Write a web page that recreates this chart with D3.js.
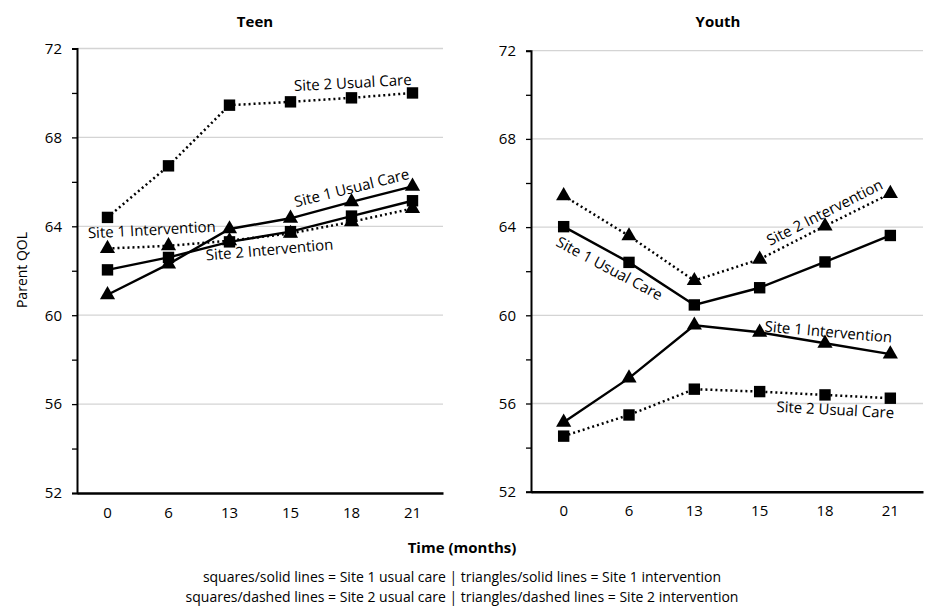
<!DOCTYPE html>
<html><head><meta charset="utf-8">
<script src="https://cdn.jsdelivr.net/npm/d3@7"></script>
<style>
body{margin:0;background:#fff;}
text{font-family:"Open Sans",Arial,sans-serif;fill:#000;}
</style></head>
<body><svg id="c" width="925" height="606"></svg>
<script>
const months = ["0","6","13","15","18","21"];
const yTicks = [52,56,60,64,68,72];
const teenSite1Usual = [62.04,62.6,63.3,63.76,64.46,65.15];
const teenSite1Interv = [60.92,62.3,63.88,64.36,65.1,65.8];
const teenSite2Usual = [64.4,66.72,69.45,69.6,69.78,70.0];
const teenSite2Interv = [63.0,63.12,63.35,63.68,64.2,64.8];
const youthSite1Usual = [64.02,62.4,60.47,61.25,62.42,63.62];
const youthSite1Interv = [55.15,57.15,59.55,59.23,58.73,58.24];
const youthSite2Usual = [54.52,55.48,56.65,56.54,56.39,56.24];
const youthSite2Interv = [65.42,63.6,61.57,62.54,64.05,65.52];

const panels = [
 {title:"Teen", x0:77, x1:443, yTop:48.5, yBot:493, tx:255,
  series:[
   {v:teenSite1Usual, sym:"square", dash:false},
   {v:teenSite1Interv, sym:"triangle", dash:false},
   {v:teenSite2Interv, sym:"triangle", dash:true},
   {v:teenSite2Usual, sym:"square", dash:true}],
  labels:[
   {t:"Site 2 Usual Care", x:353, y:88, r:-3},
   {t:"Site 1 Usual Care", x:353, y:193, r:-14},
   {t:"Site 1 Intervention", x:152, y:235, r:-3},
   {t:"Site 2 Intervention", x:270, y:255, r:-5}]},
 {title:"Youth", x0:531, x1:923, yTop:50.7, yBot:491.7, tx:718,
  series:[
   {v:youthSite1Usual, sym:"square", dash:false},
   {v:youthSite1Interv, sym:"triangle", dash:false},
   {v:youthSite2Interv, sym:"triangle", dash:true},
   {v:youthSite2Usual, sym:"square", dash:true}],
  labels:[
   {t:"Site 2 Intervention", x:827, y:217, r:-27},
   {t:"Site 1 Usual Care", x:607, y:273, r:28},
   {t:"Site 1 Intervention", x:828, y:337, r:5},
   {t:"Site 2 Usual Care", x:835, y:415, r:3}]}
];

const svg = d3.select("#c");
panels.forEach(p=>{
  const g = svg.append("g");
  const x = d3.scaleBand().domain(months).range([p.x0,p.x1]);
  const y = d3.scaleLinear().domain([52,72]).range([p.yBot,p.yTop]);
  g.selectAll(".grid").data(yTicks.slice(1)).enter().append("line")
    .attr("x1",p.x0).attr("x2",p.x1).attr("y1",d=>y(d)).attr("y2",d=>y(d))
    .attr("stroke","#d4d4d4").attr("stroke-width",1.3);
  const ya = g.append("g").attr("transform",`translate(${p.x0},0)`)
    .call(d3.axisLeft(y).tickValues(d3.range(52,73,2)).tickSize(5).tickFormat(d=>yTicks.includes(d)?d:""));
  ya.select(".domain").attr("stroke","#000").attr("stroke-width",2);
  ya.selectAll(".tick line").attr("stroke","#000").attr("stroke-width",1.3);
  ya.selectAll(".tick text").attr("font-size",15).attr("x",-15)
    .style("font-family","'Open Sans',Arial,sans-serif");
  const xa = g.append("g").attr("transform",`translate(0,${p.yBot})`)
    .call(d3.axisBottom(x).tickSize(0).tickPadding(14));
  xa.select(".domain").attr("stroke","#000").attr("stroke-width",2.5);
  xa.selectAll(".tick text").attr("font-size",15)
    .style("font-family","'Open Sans',Arial,sans-serif");
  g.append("text").attr("x",p.tx).attr("y",27).attr("text-anchor","middle")
    .attr("font-size",15).attr("font-weight","bold").text(p.title);
  const line = d3.line().x((d,i)=>x(months[i])+x.bandwidth()/2).y(d=>y(d));
  p.series.forEach(s=>{
    g.append("path").datum(s.v).attr("d",line).attr("fill","none")
      .attr("stroke","#000").attr("stroke-width",s.dash?2.5:2.4)
      .attr("stroke-dasharray",s.dash?"2,3":null);
    const sym = d3.symbol().type(s.sym==="square"?d3.symbolSquare:d3.symbolTriangle)
      .size(s.sym==="square"?130:100);
    g.selectAll(null).data(s.v).enter().append("path")
      .attr("d",sym)
      .attr("transform",(d,i)=>`translate(${x(months[i])+x.bandwidth()/2},${y(d)})`)
      .attr("fill","#000");
  });
  p.labels.forEach(l=>{
    g.append("text").attr("transform",`translate(${l.x},${l.y}) rotate(${l.r})`)
      .attr("text-anchor","middle").attr("font-size",15).text(l.t);
  });
});
svg.append("text").attr("transform","translate(27,270) rotate(-90)")
  .attr("text-anchor","middle").attr("font-size",14).text("Parent QOL");
svg.append("text").attr("x",462).attr("y",553).attr("text-anchor","middle")
  .attr("font-size",15).attr("font-weight","bold").text("Time (months)");
svg.append("text").attr("x",462).attr("y",582).attr("text-anchor","middle")
  .attr("font-size",14).text("squares/solid lines = Site 1 usual care | triangles/solid lines = Site 1 intervention");
svg.append("text").attr("x",462).attr("y",602).attr("text-anchor","middle")
  .attr("font-size",14).text("squares/dashed lines = Site 2 usual care | triangles/dashed lines = Site 2 intervention");
</script></body></html>
